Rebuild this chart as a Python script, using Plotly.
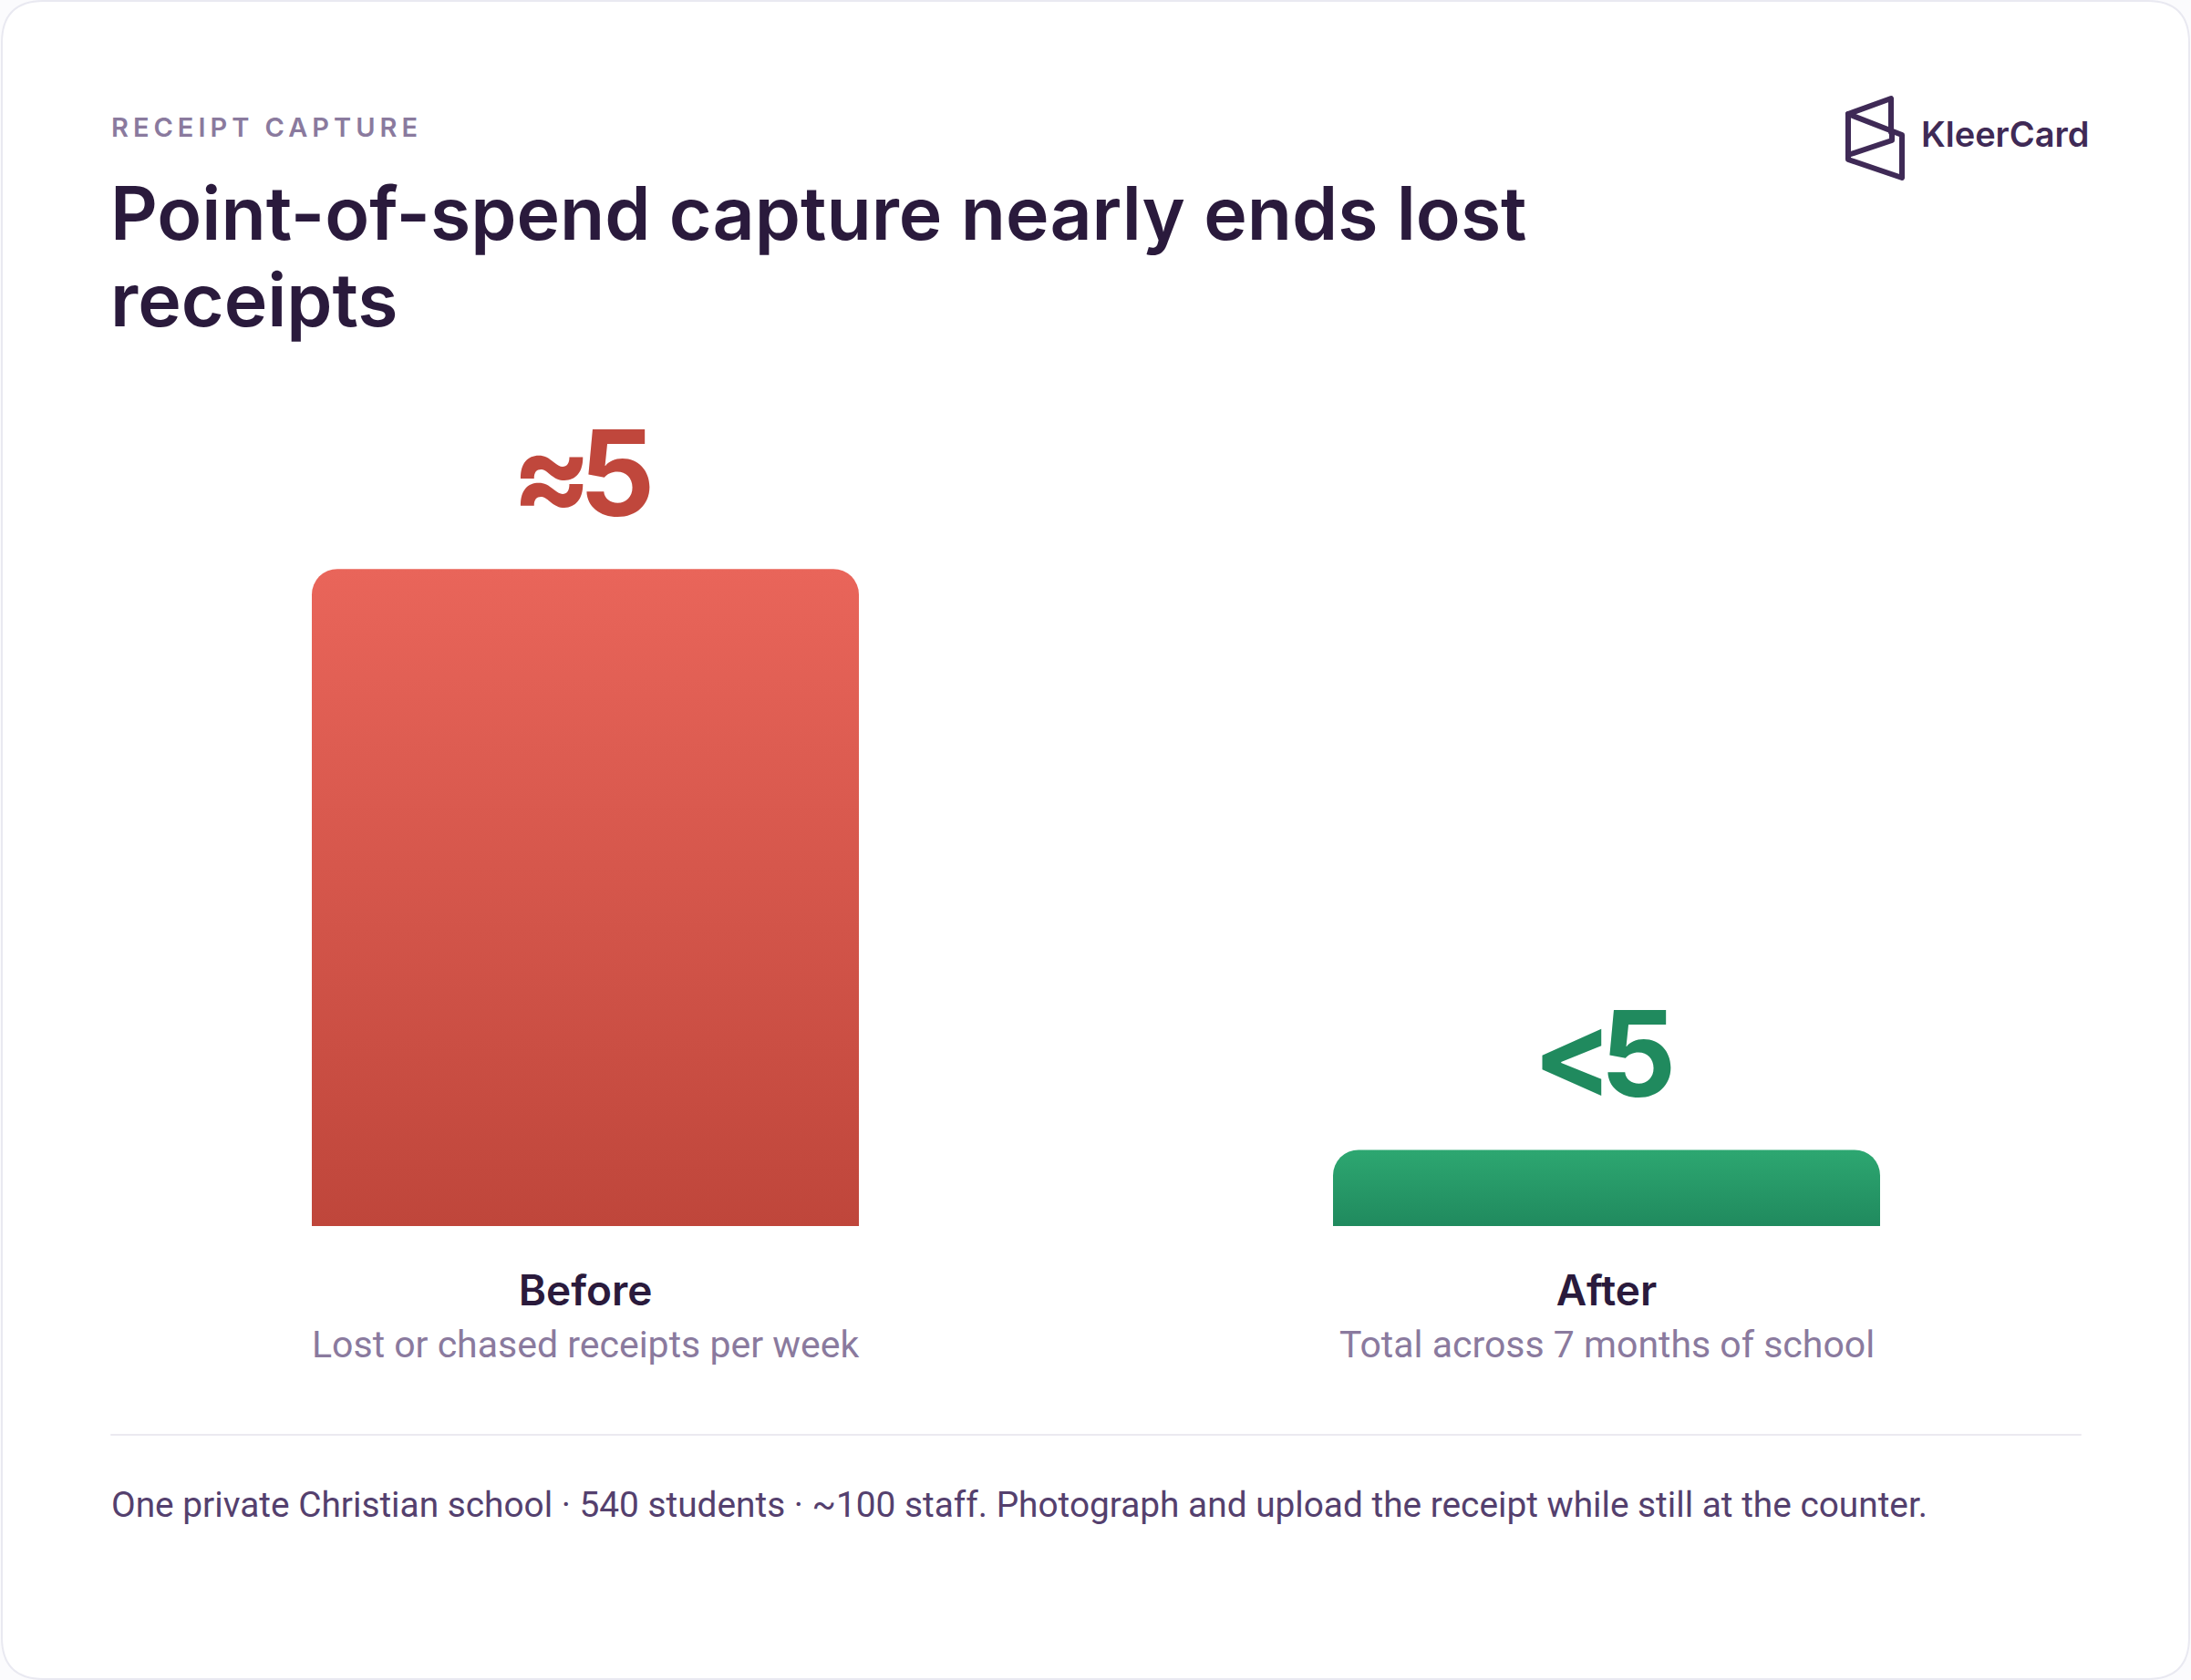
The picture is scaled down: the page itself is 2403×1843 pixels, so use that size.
import plotly.graph_objects as go

W = 2403
H = 1843

# chart data
categories = ['Before', 'After']
values = [5, 0.58]
value_labels = ['≈5', '<5']
sublabels = ['Lost or chased receipts per week', 'Total across 7 months of school']
bar_top_colors = ['#e9655a', '#2da771']
bar_bottom_colors = ['#bf463b', '#208a5e']
label_colors = ['#c0473c', '#208a5e']

eyebrow = 'RECEIPT CAPTURE'
title_lines = ['Point-of-spend capture nearly ends lost', 'receipts']
footer = 'One private Christian school · 540 students · ~100 staff. Photograph and upload the receipt while still at the counter.'
brand = 'KleerCard'

DARK = '#2a1a3c'
MUTED = '#8a7a9e'
BODY = '#54406e'
HEAD_FONT = 'Inter'
TEXT_FONT = 'Roboto'


def px(x):
    # page pixel to paper x
    return x / W


def py(y):
    # page pixel to paper y
    return 1 - y / H


def page_text(text, x, y, size, color, family=TEXT_FONT, weight=400, anchor='left'):
    fig.add_annotation(text=text, x=px(x), y=py(y), xref='paper', yref='paper',
                       xanchor=anchor, yanchor='middle', align='left', showarrow=False,
                       borderpad=0,
                       font=dict(family=family, size=size, color=color, weight=weight))


def path(points):
    return 'M ' + ' L '.join(f'{px(a):.5f},{py(b):.5f}' for a, b in points)


def card_path(x0, y0, x1, y1, r):
    return (f'M {px(x0 + r):.5f},{py(y0):.5f} L {px(x1 - r):.5f},{py(y0):.5f} '
            f'Q {px(x1):.5f},{py(y0):.5f} {px(x1):.5f},{py(y0 + r):.5f} '
            f'L {px(x1):.5f},{py(y1 - r):.5f} '
            f'Q {px(x1):.5f},{py(y1):.5f} {px(x1 - r):.5f},{py(y1):.5f} '
            f'L {px(x0 + r):.5f},{py(y1):.5f} '
            f'Q {px(x0):.5f},{py(y1):.5f} {px(x0):.5f},{py(y1 - r):.5f} '
            f'L {px(x0):.5f},{py(y0 + r):.5f} '
            f'Q {px(x0):.5f},{py(y0):.5f} {px(x0 + r):.5f},{py(y0):.5f} Z')


fig = go.Figure()
fig.add_trace(go.Bar(x=categories, y=values, width=600 / 1120,
                     marker=dict(color=label_colors, line_width=0, cornerradius=28),
                     hoverinfo='skip'))

# big value labels sit above their bars
for cat, val, lab, col in zip(categories, values, value_labels, label_colors):
    fig.add_annotation(text=lab, x=cat, y=val, xref='x', yref='y', xshift=-10, yshift=25,
                       xanchor='center', yanchor='bottom', showarrow=False,
                       font=dict(family=HEAD_FONT, size=130, color=col, weight=700))

for cat, sub in zip(categories, sublabels):
    fig.add_annotation(text=sub, x=cat, y=py(1475), xref='x', yref='paper',
                       xanchor='center', yanchor='middle', showarrow=False,
                       font=dict(family=TEXT_FONT, size=41, color=MUTED))

page_text(eyebrow, 121, 139, 29, MUTED, HEAD_FONT, 600)
page_text('<br>'.join(title_lines), 120, 286, 80.5, DARK, HEAD_FONT, 600)
page_text(footer, 121, 1650, 38.8, BODY)
page_text(brand, 2106, 147, 38, '#3f2a56', HEAD_FONT, 600)

shapes = [
    dict(type='path', path=card_path(2, 1, W - 2, H - 1, 46), xref='paper', yref='paper',
         fillcolor='white', line=dict(color='#e9e9f1', width=2), layer='below'),
    dict(type='line', x0=px(122), x1=px(2282), y0=py(1574), y1=py(1574),
         xref='paper', yref='paper', line=dict(color='#ebe9f0', width=2)),
]

# logo outline, page pixels
logo_lines = [
    [(2027, 125), (2027, 175), (2086, 195), (2086, 148), (2027, 125)],
    [(2027, 125), (2074, 108), (2074, 145)],
    [(2027, 170), (2075, 154), (2075, 145)],
]
for pts in logo_lines:
    shapes.append(dict(type='path', path=path(pts), xref='paper', yref='paper',
                       line=dict(color='#3f2a56', width=6)))

fig.update_layout(
    width=W, height=H,
    margin=dict(l=0, r=0, t=0, b=0),
    paper_bgcolor='#fbfbfd',
    plot_bgcolor='rgba(0,0,0,0)',
    showlegend=False,
    shapes=shapes,
    xaxis=dict(domain=[px(82), px(2322)], type='category', showgrid=False, zeroline=False,
               showline=False, ticks='', ticklabelstandoff=40,
               tickfont=dict(family=HEAD_FONT, size=46, color=DARK, weight=600)),
    yaxis=dict(domain=[py(1345), py(480)], range=[0, 6], visible=False),
)

# bars get their vertical gradient after drawing, svg gradients are not a bar option
post = """
document.body.style.margin = '0';
var gd = document.getElementById('{plot_id}');
var tops = %s, bots = %s, valueLabels = %s;
var svg = gd.querySelector('svg.main-svg');
var ns = 'http://www.w3.org/2000/svg';
var defs = document.createElementNS(ns, 'defs');
svg.insertBefore(defs, svg.firstChild);
gd.querySelectorAll('.bars .point path').forEach(function (p, i) {
  var g = document.createElementNS(ns, 'linearGradient');
  g.id = 'bargrad' + i;
  g.setAttribute('x1', 0); g.setAttribute('x2', 0);
  g.setAttribute('y1', 0); g.setAttribute('y2', 1);
  [[0, tops[i]], [1, bots[i]]].forEach(function (s) {
    var st = document.createElementNS(ns, 'stop');
    st.setAttribute('offset', s[0]);
    st.setAttribute('stop-color', s[1]);
    g.appendChild(st);
  });
  defs.appendChild(g);
  p.style.fill = 'url(#bargrad' + i + ')';
});
gd.querySelectorAll('.annotation-text').forEach(function (t) {
  if (t.textContent === %r) {
    t.style.letterSpacing = '5px';
  } else if (valueLabels.indexOf(t.textContent) >= 0) {
    t.style.letterSpacing = '-14px';
  }
  // title line height is tighter than plotly's fixed 1.3em
  t.querySelectorAll('tspan.line').forEach(function (l) {
    if (l.getAttribute('dy') === '1.3em') { l.setAttribute('dy', '1.18em'); }
  });
});
gd.querySelectorAll('.shapelayer path').forEach(function (p) {
  p.style.strokeLinejoin = 'round';
  p.style.strokeLinecap = 'round';
});
""" % (bar_top_colors, bar_bottom_colors, value_labels, eyebrow)

fig.write_html("out.html", post_script=post, config=dict(displayModeBar=False))
